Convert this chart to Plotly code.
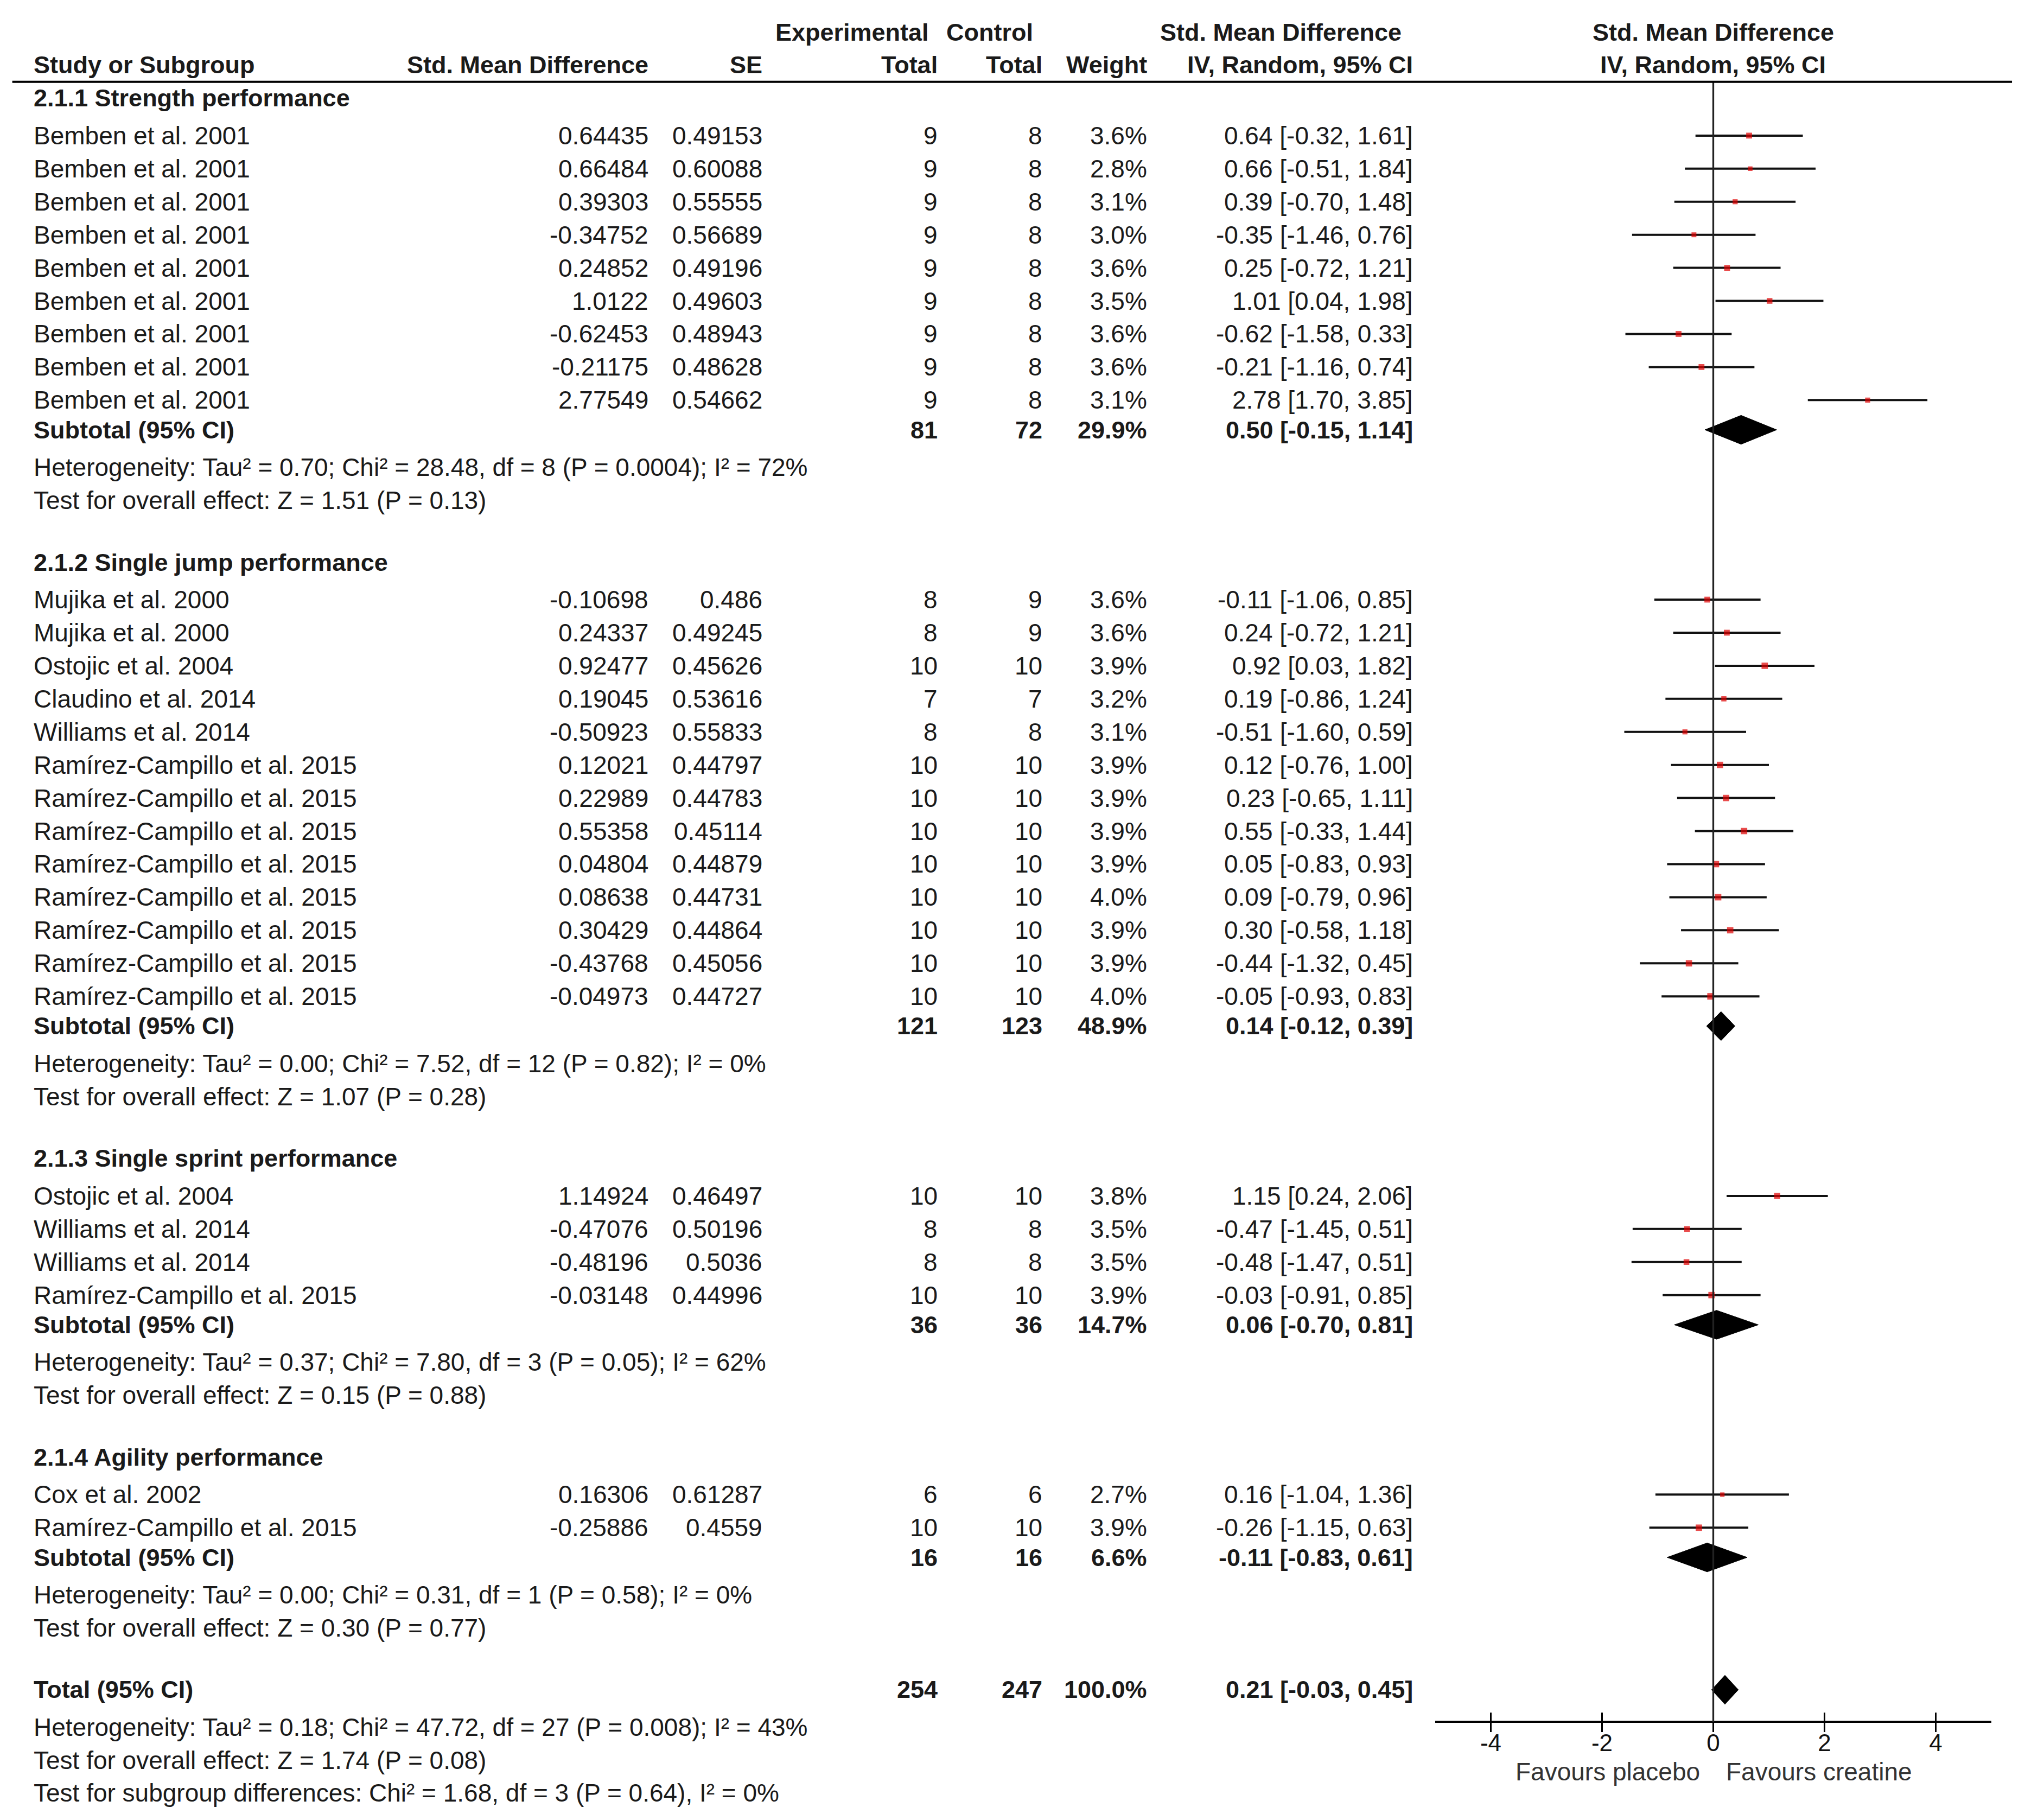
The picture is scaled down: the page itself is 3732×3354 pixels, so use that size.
import plotly.graph_objects as go

# ---- data ----
group_titles = ["2.1.1 Strength performance", "2.1.2 Single jump performance",
                "2.1.3 Single sprint performance", "2.1.4 Agility performance"]

g1_study = ["Bemben et al. 2001"] * 9
g1_smd = [0.64435, 0.66484, 0.39303, -0.34752, 0.24852, 1.0122, -0.62453, -0.21175, 2.77549]
g1_se = [0.49153, 0.60088, 0.55555, 0.56689, 0.49196, 0.49603, 0.48943, 0.48628, 0.54662]
g1_exp = [9, 9, 9, 9, 9, 9, 9, 9, 9]
g1_ctrl = [8, 8, 8, 8, 8, 8, 8, 8, 8]
g1_weight = [3.6, 2.8, 3.1, 3.0, 3.6, 3.5, 3.6, 3.6, 3.1]
g1_lo = [-0.32, -0.51, -0.70, -1.46, -0.72, 0.04, -1.58, -1.16, 1.70]
g1_hi = [1.61, 1.84, 1.48, 0.76, 1.21, 1.98, 0.33, 0.74, 3.85]

g2_study = ["Mujika et al. 2000", "Mujika et al. 2000", "Ostojic et al. 2004", "Claudino et al. 2014",
            "Williams et al. 2014"] + ["Ramírez-Campillo et al. 2015"] * 8
g2_smd = [-0.10698, 0.24337, 0.92477, 0.19045, -0.50923, 0.12021, 0.22989, 0.55358,
          0.04804, 0.08638, 0.30429, -0.43768, -0.04973]
g2_se = [0.486, 0.49245, 0.45626, 0.53616, 0.55833, 0.44797, 0.44783, 0.45114,
         0.44879, 0.44731, 0.44864, 0.45056, 0.44727]
g2_exp = [8, 8, 10, 7, 8, 10, 10, 10, 10, 10, 10, 10, 10]
g2_ctrl = [9, 9, 10, 7, 8, 10, 10, 10, 10, 10, 10, 10, 10]
g2_weight = [3.6, 3.6, 3.9, 3.2, 3.1, 3.9, 3.9, 3.9, 3.9, 4.0, 3.9, 3.9, 4.0]
g2_lo = [-1.06, -0.72, 0.03, -0.86, -1.60, -0.76, -0.65, -0.33, -0.83, -0.79, -0.58, -1.32, -0.93]
g2_hi = [0.85, 1.21, 1.82, 1.24, 0.59, 1.00, 1.11, 1.44, 0.93, 0.96, 1.18, 0.45, 0.83]

g3_study = ["Ostojic et al. 2004", "Williams et al. 2014", "Williams et al. 2014",
            "Ramírez-Campillo et al. 2015"]
g3_smd = [1.14924, -0.47076, -0.48196, -0.03148]
g3_se = [0.46497, 0.50196, 0.5036, 0.44996]
g3_exp = [10, 8, 8, 10]
g3_ctrl = [10, 8, 8, 10]
g3_weight = [3.8, 3.5, 3.5, 3.9]
g3_lo = [0.24, -1.45, -1.47, -0.91]
g3_hi = [2.06, 0.51, 0.51, 0.85]

g4_study = ["Cox et al. 2002", "Ramírez-Campillo et al. 2015"]
g4_smd = [0.16306, -0.25886]
g4_se = [0.61287, 0.4559]
g4_exp = [6, 10]
g4_ctrl = [6, 10]
g4_weight = [2.7, 3.9]
g4_lo = [-1.04, -1.15]
g4_hi = [1.36, 0.63]

sub_exp = [81, 121, 36, 16]
sub_ctrl = [72, 123, 36, 16]
sub_weight = [29.9, 48.9, 14.7, 6.6]
sub_est = [0.50, 0.14, 0.06, -0.11]
sub_lo = [-0.15, -0.12, -0.70, -0.83]
sub_hi = [1.14, 0.39, 0.81, 0.61]
sub_het = [
    "Heterogeneity: Tau² = 0.70; Chi² = 28.48, df = 8 (P = 0.0004); I² = 72%",
    "Heterogeneity: Tau² = 0.00; Chi² = 7.52, df = 12 (P = 0.82); I² = 0%",
    "Heterogeneity: Tau² = 0.37; Chi² = 7.80, df = 3 (P = 0.05); I² = 62%",
    "Heterogeneity: Tau² = 0.00; Chi² = 0.31, df = 1 (P = 0.58); I² = 0%",
]
sub_test = [
    "Test for overall effect: Z = 1.51 (P = 0.13)",
    "Test for overall effect: Z = 1.07 (P = 0.28)",
    "Test for overall effect: Z = 0.15 (P = 0.88)",
    "Test for overall effect: Z = 0.30 (P = 0.77)",
]

total_exp, total_ctrl, total_weight = 254, 247, 100.0
total_est, total_lo, total_hi = 0.21, -0.03, 0.45
total_notes = [
    "Heterogeneity: Tau² = 0.18; Chi² = 47.72, df = 27 (P = 0.008); I² = 43%",
    "Test for overall effect: Z = 1.74 (P = 0.08)",
    "Test for subgroup differences: Chi² = 1.68, df = 3 (P = 0.64), I² = 0%",
]

tick_vals = [-4, -2, 0, 2, 4]
tick_text = ["-4", "-2", "0", "2", "4"]
favours = ["Favours placebo", "Favours creatine"]

groups = [
    (g1_study, g1_smd, g1_se, g1_exp, g1_ctrl, g1_weight, g1_lo, g1_hi),
    (g2_study, g2_smd, g2_se, g2_exp, g2_ctrl, g2_weight, g2_lo, g2_hi),
    (g3_study, g3_smd, g3_se, g3_exp, g3_ctrl, g3_weight, g3_lo, g3_hi),
    (g4_study, g4_smd, g4_se, g4_exp, g4_ctrl, g4_weight, g4_lo, g4_hi),
]

# ---- layout ----
# positions below are in "reference units" (1 unit = 2.38 px); page body adds an 8px offset
W, H = 3732, 3354
S, OFF = 2.38, 8
FONT = "Liberation Sans, Arial, sans-serif"
FS, FSB = 46, 45
TXT = "#1a1a1a"
X_NAME, X_SMD, X_SE, X_EXP, X_CTRL, X_W, X_CI = 25, 503, 591, 727, 808, 889, 1095
X0 = 1326.6
AXIS_Y = 1333.2
RULE_Y = 63.3


def px(x):
    return (x * S - OFF) / W


annotations = []


def txt(x, y, s, anchor="right", bold=False, color=TXT):
    annotations.append(dict(
        x=px(x), y=y, xref="paper", yref="y",
        text=f"<b>{s}</b>" if bold else s, showarrow=False,
        xanchor=anchor, yanchor="middle",
        font=dict(family=FONT, size=FSB if bold else FS, color=color)))


def ci_text(est, lo, hi):
    return f"{est:.2f} [{lo:.2f}, {hi:.2f}]"


# headers
txt(720, 25, "Experimental", bold=True)
txt(801, 25, "Control", bold=True)
txt(1086, 25, "Std. Mean Difference", bold=True)
txt(X_NAME, 50, "Study or Subgroup", anchor="left", bold=True)
txt(X_SMD, 50, "Std. Mean Difference", bold=True)
txt(X_SE, 50, "SE", bold=True)
txt(X_EXP, 50, "Total", bold=True)
txt(X_CTRL, 50, "Total", bold=True)
txt(X_W, 50, "Weight", bold=True)
txt(X_CI, 50, "IV, Random, 95% CI", bold=True)
txt(X0, 25, "Std. Mean Difference", anchor="center", bold=True)
txt(X0, 50, "IV, Random, 95% CI", anchor="center", bold=True)

ci_x, ci_y = [], []
pt_x, pt_y, pt_s = [], [], []
diamonds = []

y = 76
for i, (study, smd, se, ne, nc, w, lo, hi) in enumerate(groups):
    txt(X_NAME, y, group_titles[i], anchor="left", bold=True)
    y += 29
    for k in range(len(study)):
        txt(X_NAME, y, study[k], anchor="left")
        txt(X_SMD, y, str(smd[k]))
        txt(X_SE, y, str(se[k]))
        txt(X_EXP, y, str(ne[k]))
        txt(X_CTRL, y, str(nc[k]))
        txt(X_W, y, f"{w[k]:.1f}%")
        txt(X_CI, y, ci_text(smd[k], lo[k], hi[k]))
        ci_x += [lo[k], hi[k], None]
        ci_y += [y, y, None]
        pt_x.append(smd[k])
        pt_y.append(y)
        pt_s.append(w[k] * 3.0)
        y += 25.6
    y -= 2.6
    txt(X_NAME, y, "Subtotal (95% CI)", anchor="left", bold=True)
    txt(X_EXP, y, str(sub_exp[i]), bold=True)
    txt(X_CTRL, y, str(sub_ctrl[i]), bold=True)
    txt(X_W, y, f"{sub_weight[i]:.1f}%", bold=True)
    txt(X_CI, y, ci_text(sub_est[i], sub_lo[i], sub_hi[i]), bold=True)
    diamonds.append((sub_est[i], sub_lo[i], sub_hi[i], y))
    y += 29
    txt(X_NAME, y, sub_het[i], anchor="left")
    y += 25.5
    txt(X_NAME, y, sub_test[i], anchor="left")
    y += 48

txt(X_NAME, y, "Total (95% CI)", anchor="left", bold=True)
txt(X_EXP, y, str(total_exp), bold=True)
txt(X_CTRL, y, str(total_ctrl), bold=True)
txt(X_W, y, f"{total_weight:.1f}%", bold=True)
txt(X_CI, y, ci_text(total_est, total_lo, total_hi), bold=True)
diamonds.append((total_est, total_lo, total_hi, y))
y += 29
for note in total_notes:
    txt(X_NAME, y, note, anchor="left")
    y += 25.5

fig = go.Figure()

fig.add_trace(go.Scatter(x=ci_x, y=ci_y, mode="lines",
                         line=dict(color="#111111", width=4), hoverinfo="skip"))
fig.add_trace(go.Scatter(x=pt_x, y=pt_y, mode="markers",
                         marker=dict(symbol="square", size=pt_s, color="#e00000",
                                     line=dict(width=0)), hoverinfo="skip"))
DH = 11.2
for est, lo, hi, yy in diamonds:
    fig.add_trace(go.Scatter(x=[lo, est, hi, est, lo], y=[yy, yy - DH, yy, yy + DH, yy],
                             mode="lines", fill="toself", fillcolor="#000000",
                             line=dict(color="#000000", width=1), hoverinfo="skip"))

# dummy trace so the upper half of each tick renders
fig.add_trace(go.Scatter(x=tick_vals, y=[None] * len(tick_vals), xaxis="x2", yaxis="y",
                         mode="markers", hoverinfo="skip"))

# null line and header rule
fig.add_shape(type="line", xref="x", yref="y", x0=0, x1=0, y0=RULE_Y, y1=AXIS_Y,
              line=dict(color="#222222", width=3.3))
fig.add_shape(type="line", xref="paper", yref="y", x0=px(9.5), x1=px(1558),
              y0=RULE_Y, y1=RULE_Y, line=dict(color="#000000", width=4))

for txt_f, anchor, shift in [(favours[0], "right", -23), (favours[1], "left", 21)]:
    annotations.append(dict(x=0, y=1372, xref="x", yref="y", text=txt_f, showarrow=False,
                            xanchor=anchor, yanchor="middle", xshift=shift,
                            font=dict(family=FONT, size=FS, color="#333333")))

axis_pos = 1 - (AXIS_Y * S - OFF) / H
dom = [(2645 - OFF) / W, (3670 - OFF) / W]
fig.update_layout(
    width=W, height=H,
    margin=dict(l=0, r=0, t=0, b=0),
    paper_bgcolor="white", plot_bgcolor="white",
    showlegend=False,
    xaxis=dict(domain=dom, range=[-5, 5], anchor="free", position=axis_pos,
               showline=True, linecolor="#000000", linewidth=4,
               ticks="outside", ticklen=17, tickwidth=3.3, tickcolor="#000000",
               tickvals=tick_vals, ticktext=tick_text, ticklabelstandoff=-18,
               tickfont=dict(family=FONT, size=44, color="#111111"),
               showgrid=False, zeroline=False, fixedrange=True),
    xaxis2=dict(domain=dom, range=[-5, 5], overlaying="x", matches="x",
                anchor="free", position=axis_pos, side="bottom",
                showline=False, ticks="inside", ticklen=17, tickwidth=3.3, tickcolor="#000000",
                tickvals=tick_vals, showticklabels=False, showgrid=False, zeroline=False),
    yaxis=dict(domain=[0, 1], range=[(H + OFF) / S, OFF / S], visible=False, showgrid=False,
               zeroline=False, fixedrange=True),
    annotations=annotations,
)

fig.write_html("out.html")
